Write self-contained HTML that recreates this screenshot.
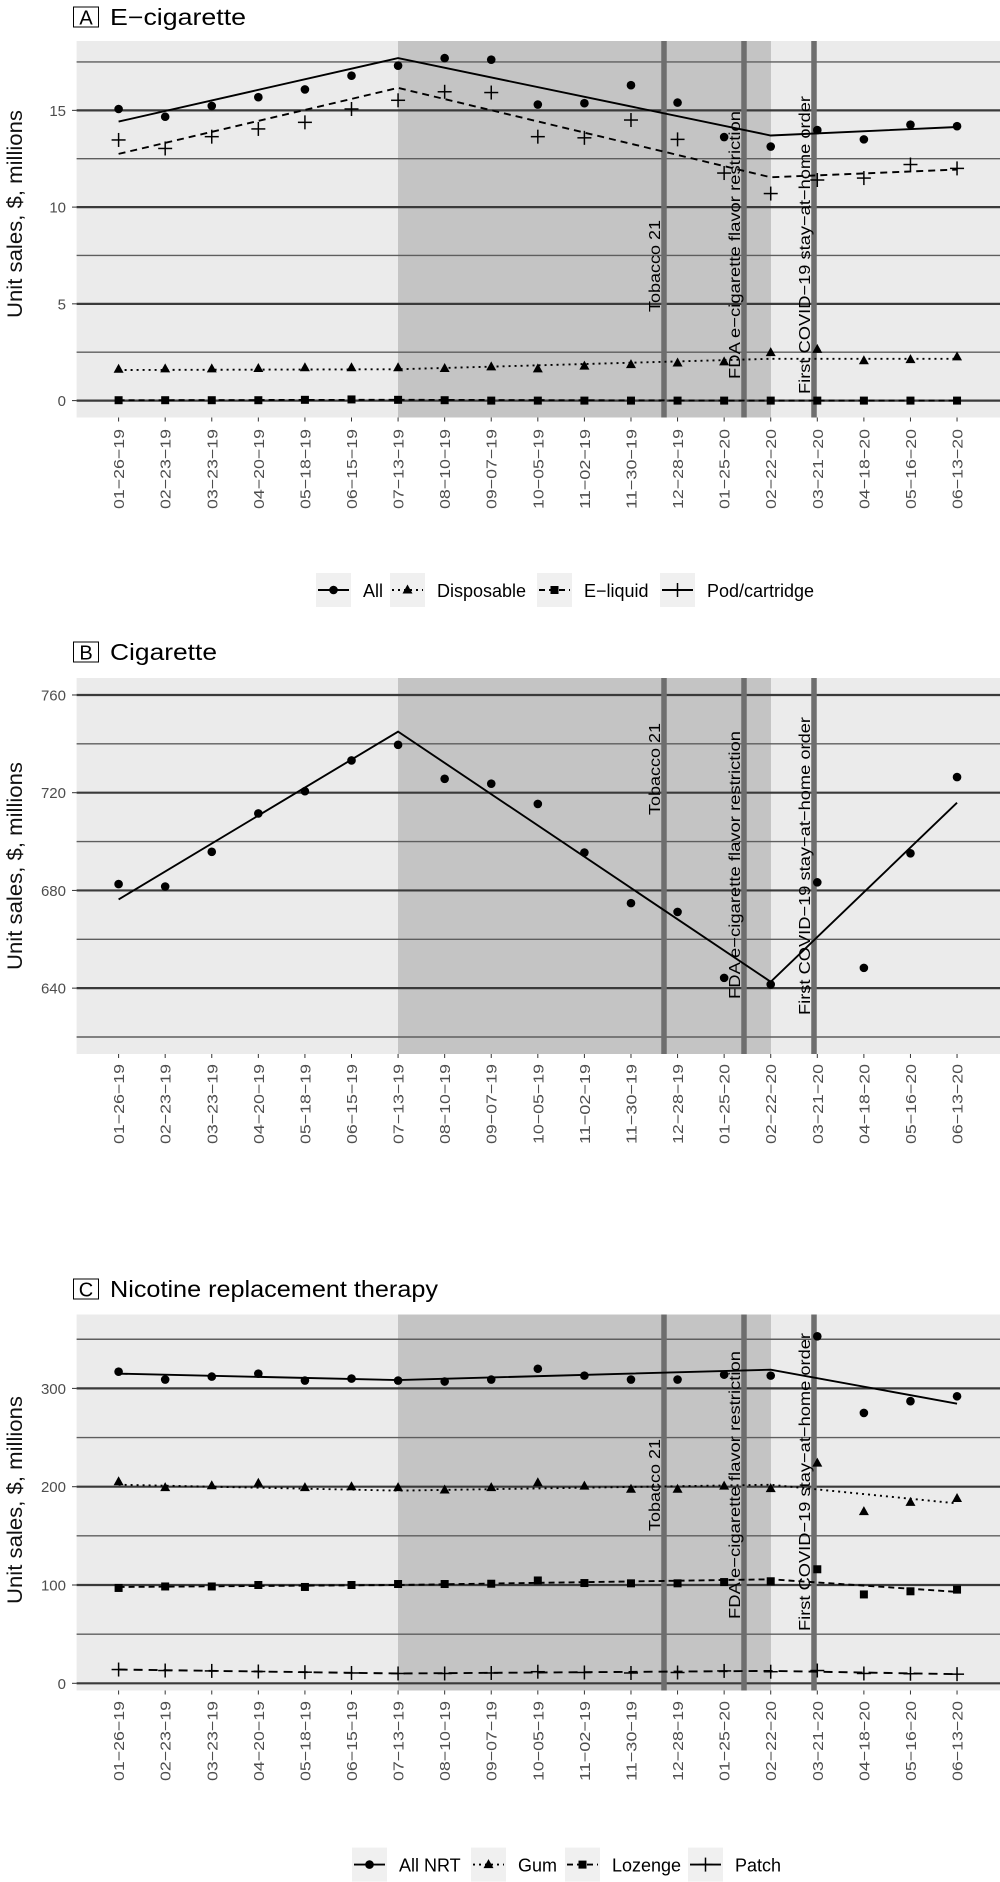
<!DOCTYPE html>
<html><head><meta charset="utf-8"><style>
html,body{margin:0;padding:0;background:#fff;}
svg{display:block;font-family:"Liberation Sans",sans-serif;}
</style></head><body>
<svg id="s" width="1000" height="1882" viewBox="0 0 1000 1882" xmlns="http://www.w3.org/2000/svg">
<text transform="translate(22,214) rotate(-90)" text-anchor="middle" font-size="21" fill="#111" textLength="208" lengthAdjust="spacingAndGlyphs">Unit sales, $, millions</text>
<text transform="translate(22,866) rotate(-90)" text-anchor="middle" font-size="21" fill="#111" textLength="208" lengthAdjust="spacingAndGlyphs">Unit sales, $, millions</text>
<text transform="translate(22,1500) rotate(-90)" text-anchor="middle" font-size="21" fill="#111" textLength="208" lengthAdjust="spacingAndGlyphs">Unit sales, $, millions</text>
</svg>
<script>
var S=document.getElementById('s'),NS='http://www.w3.org/2000/svg';
function el(t,a,txt){var e=document.createElementNS(NS,t);for(var k in a)e.setAttribute(k,a[k]);if(txt!==undefined)e.textContent=txt;S.appendChild(e);return e;}
var dates=["01-26-19","02-23-19","03-23-19","04-20-19","05-18-19","06-15-19","07-13-19","08-10-19","09-07-19","10-05-19","11-02-19","11-30-19","12-28-19","01-25-20","02-22-20","03-21-20","04-18-20","05-16-20","06-13-20"].map(function(d){return d.replace(/-/g,'\u2212')});
function X(i){return 118.6+i*46.58;}
function marker(type,x,y){
 if(type=='c')el('circle',{cx:x,cy:y,r:4.3,fill:'#000'});
 else if(type=='t')el('polygon',{points:(x)+','+(y-5.5)+' '+(x-5)+','+(y+3.5)+' '+(x+5)+','+(y+3.5),fill:'#000'});
 else if(type=='s')el('rect',{x:x-4,y:y-4,width:8,height:8,fill:'#000'});
 else if(type=='p'){el('line',{x1:x-7,y1:y,x2:x+7,y2:y,stroke:'#000','stroke-width':1.5});el('line',{x1:x,y1:y-7,x2:x,y2:y+7,stroke:'#000','stroke-width':1.5});}
}
function panel(P){
 el('rect',{x:76.6,y:P.top,width:923.4,height:P.bot-P.top,fill:'#ebebeb'});
 el('rect',{x:398,y:P.top,width:373,height:P.bot-P.top,fill:'#c4c4c4'});
 P.minor.forEach(function(v){var y=P.Y(v);el('line',{x1:76.6,x2:1000,y1:y,y2:y,stroke:'#5e5e5e','stroke-width':1.4});});
 P.major.forEach(function(v){var y=P.Y(v);el('line',{x1:76.6,x2:1000,y1:y,y2:y,stroke:'#3a3a3a','stroke-width':2.2});
  el('text',{x:66,y:y+5.5,'text-anchor':'end','font-size':15,fill:'#4d4d4d'},String(v));
  el('line',{x1:72,x2:76.6,y1:y,y2:y,stroke:'#333','stroke-width':1});});
 [664,744,814].forEach(function(x){el('line',{x1:x,x2:x,y1:P.top,y2:P.bot,stroke:'#6e6e6e','stroke-width':5.5});});
 P.series.forEach(function(s){
  var pts=s.line.map(function(p){return X(p[0])+','+P.Y(p[1])}).join(' ');
  var a={points:pts,fill:'none',stroke:'#000','stroke-width':1.9};if(s.dash)a['stroke-dasharray']=s.dash;
  el('polyline',a);
  s.pts.forEach(function(v,i){marker(s.m,X(i),P.Y(v));});
 });
 [[654,P.ev[0],'Tobacco 21',92],[734,P.ev[1],'FDA e\u2212cigarette flavor restriction',268],[804,P.ev[2],'First COVID\u221219 stay\u2212at\u2212home order',298]].forEach(function(e){
  el('text',{transform:'translate('+(e[0]+6)+','+e[1]+') rotate(-90)','text-anchor':'middle','font-size':16,fill:'#000',textLength:e[3],lengthAdjust:'spacingAndGlyphs'},e[2]);});
 dates.forEach(function(d,i){var x=X(i);el('line',{x1:x,x2:x,y1:P.bot,y2:P.bot+4,stroke:'#333','stroke-width':1});
  el('text',{transform:'translate('+(x+5.5)+','+(P.lab)+') rotate(-90)','text-anchor':'end','font-size':15,fill:'#4d4d4d',textLength:80,lengthAdjust:'spacingAndGlyphs'},d);});
 el('rect',{x:73.5,y:P.ty-10,width:25,height:20,fill:'none',stroke:'#000','stroke-width':1});
 el('text',{x:86,y:P.ty+7.5,'text-anchor':'middle','font-size':20,fill:'#000'},P.letter);
 el('text',{x:110,y:P.ty+8,'font-size':23,fill:'#000',textLength:P.tw,lengthAdjust:'spacingAndGlyphs'},P.title);
 P.leg.forEach(function(g){
  el('rect',{x:g[0],y:P.ly-17,width:35,height:34,fill:'#f0f0f0'});
  var a={x1:g[0]+2,x2:g[0]+33,y1:P.ly,y2:P.ly,stroke:'#000','stroke-width':1.9};if(g[2])a['stroke-dasharray']=g[2];el('line',a);
  marker(g[1],g[0]+17.5,P.ly);
  el('text',{x:g[0]+47,y:P.ly+7,'font-size':18,fill:'#000'},g[3]);
 });
}
var L=[0,6,14,18];
function ln(a){return a.map(function(v,i){return [L[i],v]});}
var yA=function(v){return 400.6-v*19.35;};
panel({top:41,bot:417.5,Y:yA,major:[0,5,10,15],minor:[2.5,7.5,12.5,17.5],lab:429,ev:[266,245,245],ty:17,letter:'A',title:'E\u2212cigarette',tw:136,ly:590,
 series:[
 {m:'c',line:ln([14.42,17.7,13.7,14.14]),pts:[15.07,14.67,15.23,15.68,16.08,16.79,17.31,17.7,17.62,15.3,15.37,16.3,15.4,13.62,13.13,13.98,13.5,14.26,14.18]},
 {m:'p',dash:'7,5',line:ln([12.75,16.16,11.54,11.94]),pts:[13.47,13.03,13.64,14.04,14.38,15.07,15.52,15.96,15.92,13.64,13.58,14.5,13.5,11.76,10.7,11.4,11.5,12.2,12.0]},
 {m:'t',dash:'2,4',line:ln([1.58,1.62,2.16,2.16]),pts:[1.62,1.64,1.64,1.66,1.7,1.7,1.7,1.66,1.74,1.64,1.78,1.86,1.94,2.0,2.48,2.65,2.06,2.12,2.26]},
 {m:'s',dash:'6,4',line:ln([0.02,0.04,0.0,0.0]),pts:[0.02,0.02,0.02,0.02,0.04,0.06,0.04,0.02,0,0,0,0,0,0,0,0,0,0,0]}],
 leg:[[316,'c','','All'],[390,'t','2,4','Disposable'],[537,'s','6,4','E\u2212liquid'],[660,'p','','Pod/cartridge']]});
var yB=function(v){return 792.7-(v-720)*2.443;};
panel({top:678,bot:1054,Y:yB,major:[640,680,720,760],minor:[620,660,700,740],lab:1064,ev:[769,865,866],ty:652,letter:'B',title:'Cigarette',tw:107,ly:-100,
 series:[{m:'c',line:ln([676.3,745,642.6,715.9]),pts:[682.6,681.6,695.8,711.5,720.6,733.2,739.6,725.7,723.7,715.4,695.5,674.8,671.2,644.2,641.5,683.3,648.3,695.2,726.4]}],leg:[]});
var yC=function(v){return 1683.3-v*0.983;};
panel({top:1314.5,bot:1690.5,Y:yC,major:[0,100,200,300],minor:[50,150,250,350],lab:1701,ev:[1485,1485,1482],ty:1289,letter:'C',title:'Nicotine replacement therapy',tw:328,ly:1864.6,
 series:[
 {m:'c',line:ln([315,308.5,319,284.5]),pts:[317,309,312,315,308,310,308,307,309,320,313,309,309,314,313,353,275,287,292]},
 {m:'t',dash:'2,4',line:ln([202,196,202,183]),pts:[205,199,201,203.5,199,200,199,196.6,199,204,200.6,197.4,197.4,200.6,198,224,174.7,184,188]},
 {m:'s',dash:'6,4',line:ln([98,100,105.8,93]),pts:[97,98.5,98.5,100,98,100,101,101,101.3,104.6,102,101.7,101.7,103,103.8,116,90.4,93.6,95.3]},
 {m:'p',dash:'9,6',line:ln([14,10,12.6,9.3]),pts:[14,13,12.6,12,11.3,10.5,10,10,10.5,11.8,11,10.5,11,12.6,11.8,13,10,9.7,9.3]}],
 leg:[[352,'c','','All NRT'],[471,'t','2,4','Gum'],[565,'s','6,4','Lozenge'],[688,'p','','Patch']]});
</script>
</body></html>
